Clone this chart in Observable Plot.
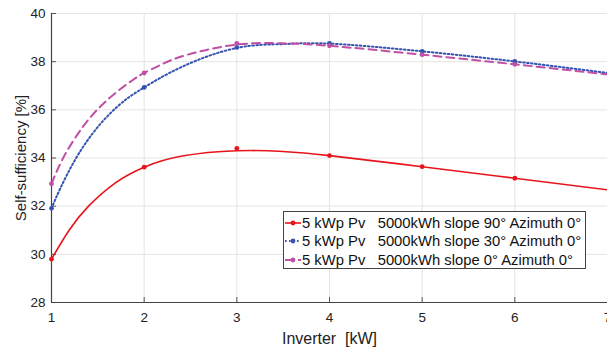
<!DOCTYPE html>
<html><head><meta charset="utf-8">
<script src="https://cdn.jsdelivr.net/npm/d3@7"></script>
<script src="https://cdn.jsdelivr.net/npm/@observablehq/plot@0.6"></script>
<style>
body{margin:0;background:#fff;font-family:"Liberation Sans",Arial,sans-serif;}
#wrap{position:relative;width:607px;height:348px;overflow:hidden;}
#legend{position:absolute;left:283px;top:211px;width:303px;height:58px;border:1px solid #444;background:#fff;box-sizing:border-box;font-size:14.8px;color:#111;padding-top:2px;}
.row{display:flex;align-items:center;height:18.3px;white-space:pre;line-height:18px;}
.row svg{flex:none;}
</style></head>
<body><div id="wrap"><div id="legend"></div></div>
<script>
// measured points (markers)
const inverterKW = [1, 2, 3, 4, 5, 6];
const slope90 = [29.8, 33.62, 34.4, 34.1, 33.64, 33.16];
const slope30 = [31.91, 36.93, 38.59, 38.76, 38.43, 38.01];
const slope0  = [32.93, 37.53, 38.76, 38.66, 38.29, 37.89];
// fitted curves
const fit90X = [1, 1.19, 1.4, 1.69, 2, 2.41, 3, 3.5, 4, 5, 6, 7];
const fit90Y = [29.8, 31.0, 32.0, 32.97, 33.62, 34.08, 34.3, 34.27, 34.1, 33.64, 33.16, 32.68];
const fit30X = [1, 1.1, 1.26, 1.44, 1.62, 1.8, 2, 2.41, 3, 3.5, 4, 5, 6, 7];
const fit30Y = [31.91, 32.78, 33.96, 35.0, 35.8, 36.42, 36.93, 37.79, 38.57, 38.73, 38.75, 38.43, 38.01, 37.53];
const fit0X  = [1, 1.133, 1.33, 1.51, 1.69, 1.87, 2, 2.19, 2.46, 3, 3.5, 4, 5, 6, 7];
const fit0Y  = [32.93, 34.05, 35.25, 36.07, 36.7, 37.22, 37.53, 37.89, 38.28, 38.71, 38.76, 38.66, 38.29, 37.89, 37.47];

const seriesNames = [
  "5 kWp Pv   5000kWh slope 90° Azimuth 0°",
  "5 kWp Pv   5000kWh slope 30° Azimuth 0°",
  "5 kWp Pv   5000kWh slope 0° Azimuth 0°"
];
const colors = ["#e8141c", "#3553b0", "#c04fa6"];
const dashes = [null, "1.6,2.4", "8,5"];
const widths = [1.6, 2, 2];
const xTicks = [1, 2, 3, 4, 5, 6, 7];
const yTicks = [28, 30, 32, 34, 36, 38, 40];

const markerSets = [slope90, slope30, slope0];
const fitSets = [[fit90X, fit90Y], [fit30X, fit30Y], [fit0X, fit0Y]];

const marks = [
  Plot.gridX(xTicks, {stroke: "#e4e4e4", strokeOpacity: 1}),
  Plot.gridY(yTicks, {stroke: "#e4e4e4", strokeOpacity: 1}),
  Plot.axisX(xTicks, {tickSize: 0, tickPadding: 10, fontSize: 13.5, fill: "#222", label: null}),
  Plot.axisY(yTicks, {tickSize: 0, tickPadding: 6, fontSize: 13.5, fill: "#222", label: null}),
  Plot.axisX(xTicks, {tickSize: -5, text: null, stroke: "#555", label: null}),
  Plot.axisY(yTicks, {tickSize: -5, text: null, stroke: "#555", label: null}),
  Plot.ruleX([1], {stroke: "#444", strokeWidth: 1.2}),
  Plot.ruleY([28], {stroke: "#444", strokeWidth: 1.2})
];
fitSets.forEach(([xs, ys], s) => {
  const d = xs.map((x, i) => ({x, y: ys[i]}));
  marks.push(Plot.line(d, {x: "x", y: "y", curve: "natural", stroke: colors[s], strokeWidth: widths[s], strokeDasharray: dashes[s]}));
});
markerSets.forEach((vals, s) => {
  const d = vals.map((y, i) => ({x: inverterKW[i], y}));
  marks.push(Plot.dot(d, {x: "x", y: "y", r: 2.4, fill: colors[s], stroke: null}));
});
marks.push(Plot.text(["Self-sufficiency [%]"], {frameAnchor: "left", textAnchor: "middle", lineAnchor: "middle", rotate: -90, dx: -30, fontSize: 15, fill: "#222"}));
marks.push(Plot.text(["Inverter  [kW]"], {frameAnchor: "bottom", textAnchor: "middle", lineAnchor: "middle", dy: 36, fontSize: 16, fill: "#222"}));

const chart = Plot.plot({
  width: 607, height: 348,
  marginLeft: 51, marginRight: 0, marginTop: 13, marginBottom: 46,
  style: {fontFamily: "Liberation Sans, Arial, sans-serif", background: "#fff", overflow: "visible"},
  x: {domain: [1, 7]},
  y: {domain: [28, 40]},
  marks
});
document.getElementById("wrap").prepend(chart);

// legend
const leg = document.getElementById("legend");
seriesNames.forEach((name, s) => {
  const row = document.createElement("div");
  row.className = "row";
  const svg = d3.create("svg").attr("width", 18).attr("height", 18);
  svg.append("line").attr("x1", 1).attr("x2", 17).attr("y1", 9).attr("y2", 9)
    .attr("stroke", colors[s]).attr("stroke-width", widths[s]).attr("stroke-dasharray", dashes[s]);
  svg.append("circle").attr("cx", 9).attr("cy", 9).attr("r", 2.4).attr("fill", colors[s]);
  row.appendChild(svg.node());
  const t = document.createElement("span");
  t.textContent = name;
  row.appendChild(t);
  leg.appendChild(row);
});
</script></body></html>
